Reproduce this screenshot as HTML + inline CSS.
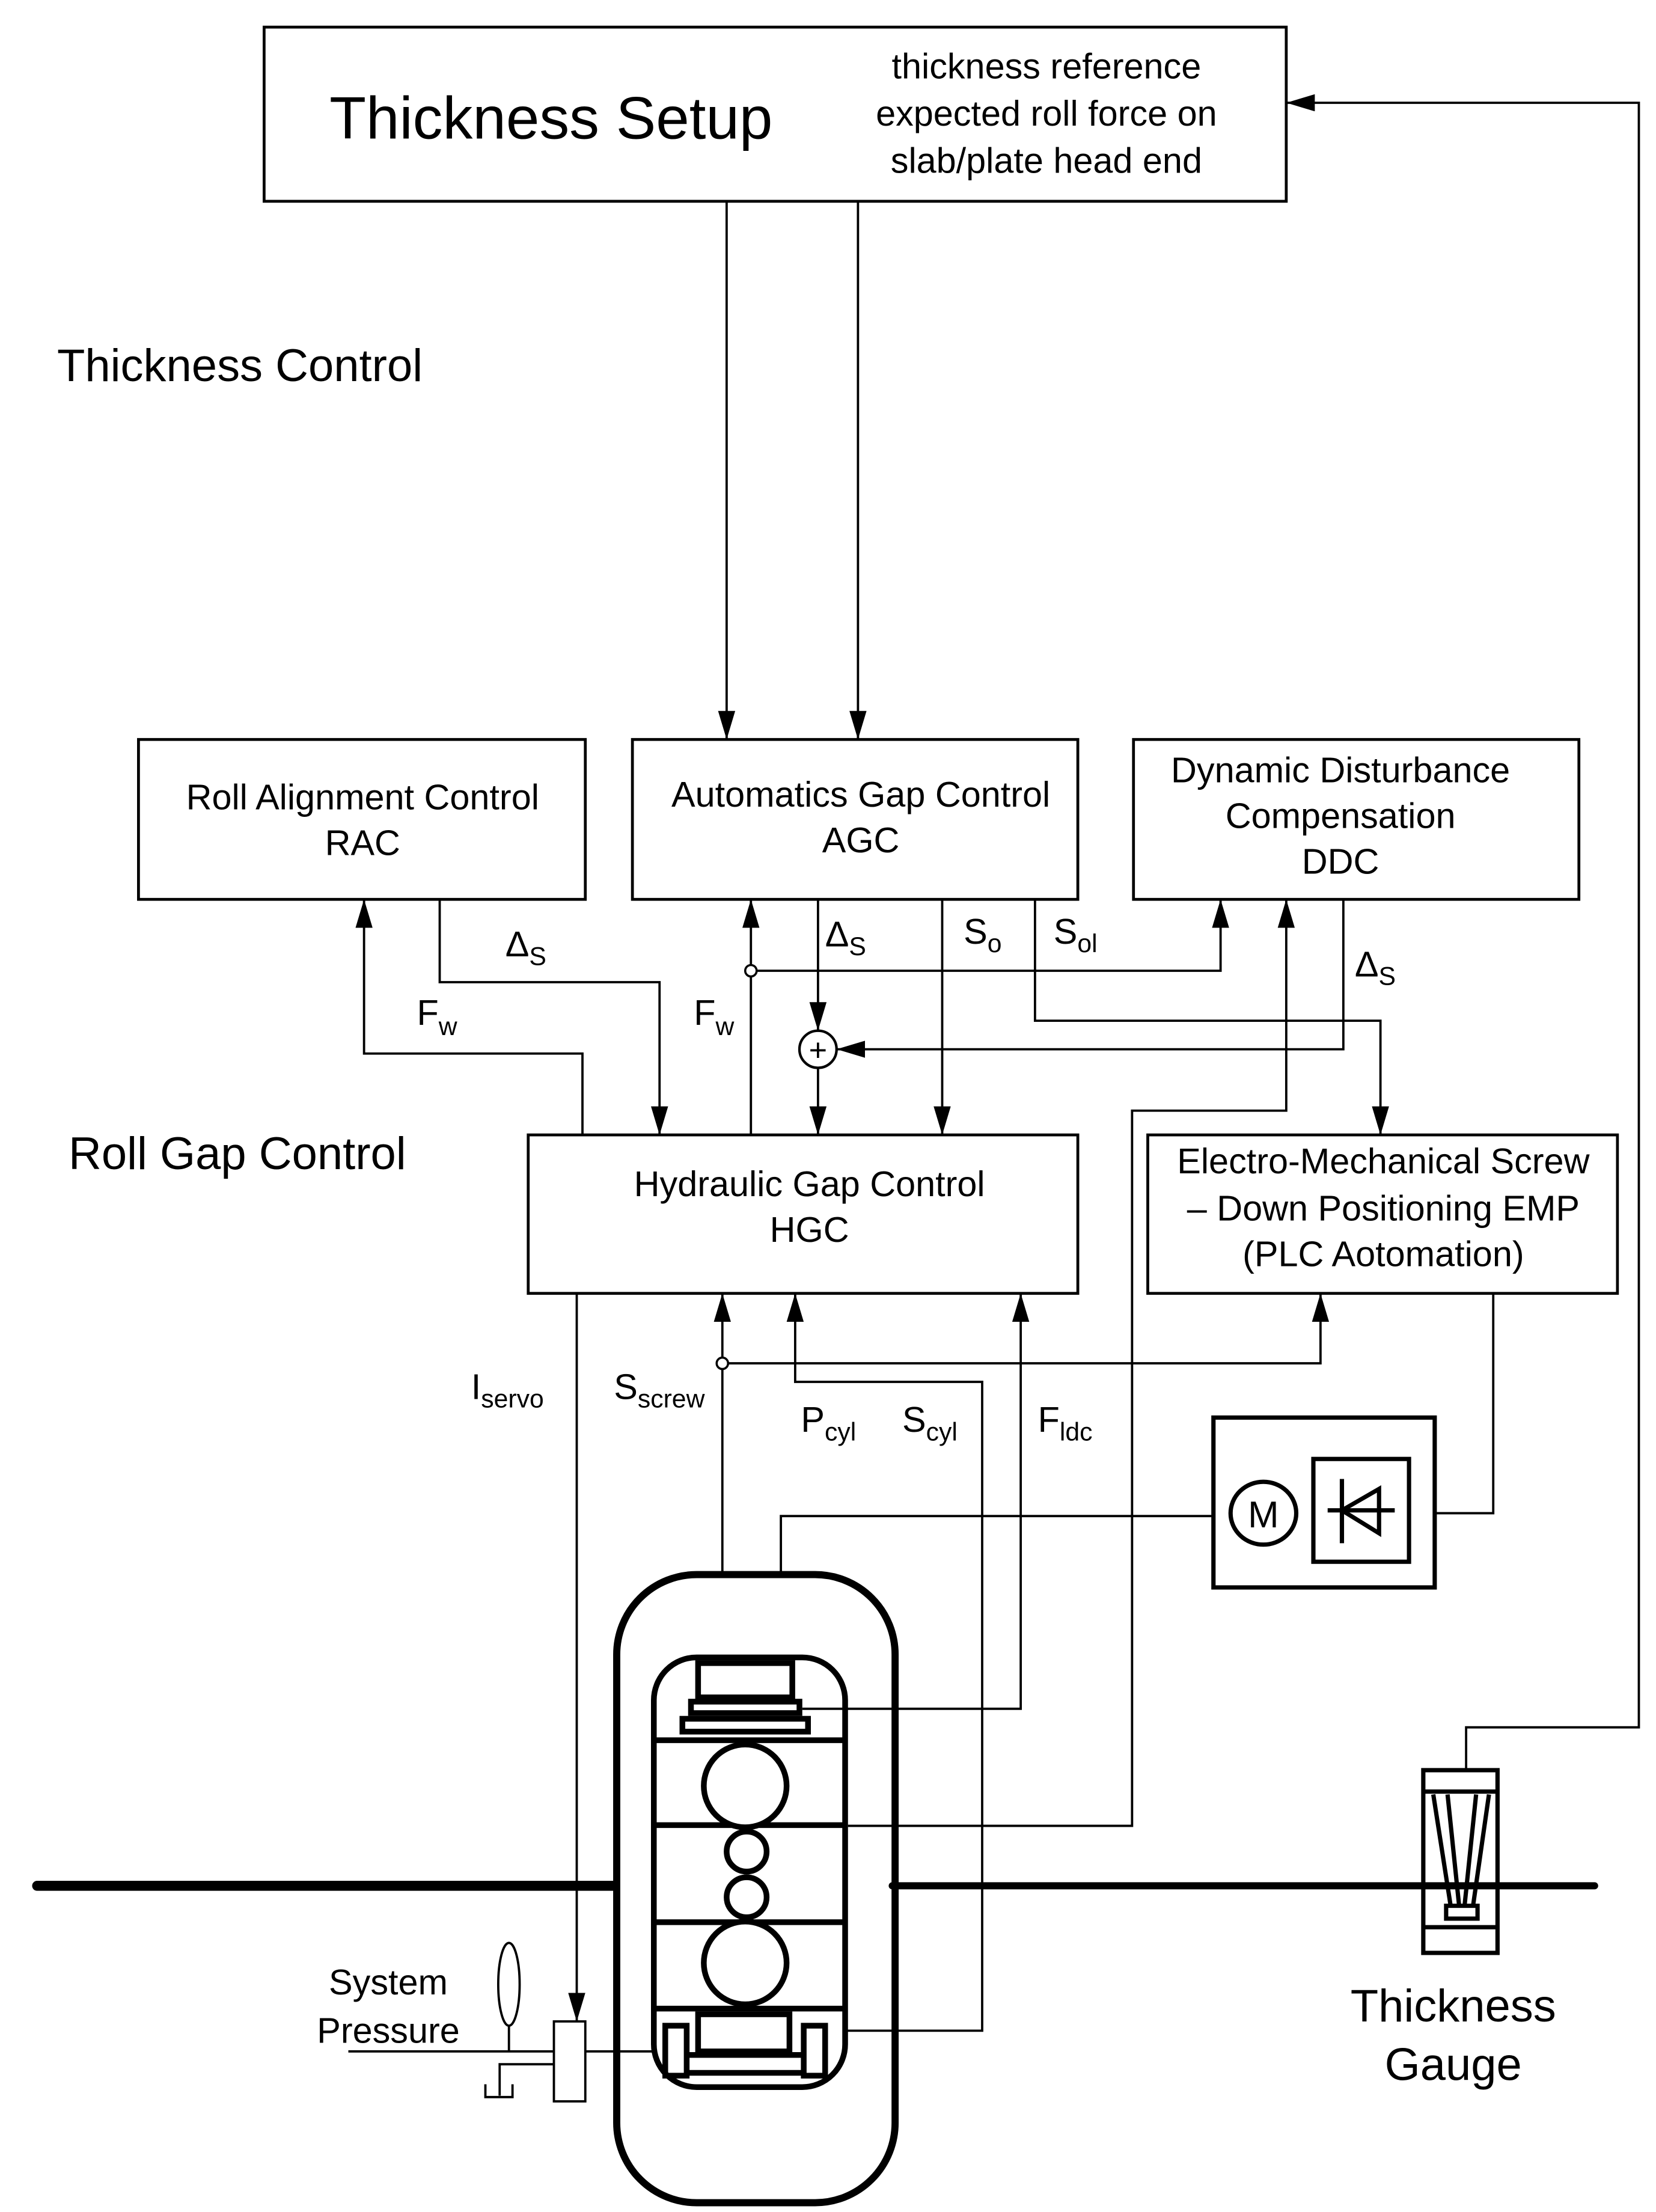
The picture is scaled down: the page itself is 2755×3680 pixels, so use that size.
<!DOCTYPE html>
<html><head><meta charset="utf-8"><style>
html,body{margin:0;padding:0;background:#fff;}
svg{display:block;}
text{font-family:"Liberation Sans",Arial,sans-serif;fill:#000;}
</style></head><body>
<svg width="2755" height="3680" viewBox="0 0 1160 1549.5" xmlns="http://www.w3.org/2000/svg">
<defs>
<marker id="a" viewBox="0 0 20 12" refX="20" refY="6" markerWidth="20" markerHeight="12" markerUnits="userSpaceOnUse" orient="auto">
<path d="M0,0 L20,6 L0,12 Z" fill="#000"/>
</marker>
</defs>
<g fill="none" stroke="#000" stroke-width="2">
<rect x="185" y="19" width="716" height="122"/>
<rect x="97" y="518" width="313" height="112"/>
<rect x="443" y="518" width="312" height="112"/>
<rect x="794" y="518" width="312" height="112"/>
<rect x="370" y="795" width="385" height="111"/>
<rect x="804" y="795" width="329" height="111"/>
</g>
<g fill="none" stroke="#000" stroke-width="1.6">
<line x1="509" y1="141" x2="509" y2="518" marker-end="url(#a)"/>
<line x1="601" y1="141" x2="601" y2="518" marker-end="url(#a)"/>
<polyline points="1027,1240 1027,1210 1148,1210 1148,72 901,72" marker-end="url(#a)"/>
<polyline points="408,795 408,738 255,738 255,630" marker-end="url(#a)"/>
<polyline points="308,630 308,688 462,688 462,795" marker-end="url(#a)"/>
<line x1="526" y1="795" x2="526" y2="630" marker-end="url(#a)"/>
<polyline points="530,680 855,680 855,630" marker-end="url(#a)"/>
<line x1="573" y1="630" x2="573" y2="722" marker-end="url(#a)"/>
<line x1="573" y1="748" x2="573" y2="795" marker-end="url(#a)"/>
<line x1="660" y1="630" x2="660" y2="795" marker-end="url(#a)"/>
<polyline points="725,630 725,715 967,715 967,795" marker-end="url(#a)"/>
<polyline points="941,630 941,735 586,735" marker-end="url(#a)"/>
<polyline points="594,1279 793,1279 793,778 901,778 901,630" marker-end="url(#a)"/>
<polyline points="404,906 404,1416" marker-end="url(#a)"/>
<line x1="506" y1="1102" x2="506" y2="906" marker-end="url(#a)"/>
<polyline points="510,955 925,955 925,906" marker-end="url(#a)"/>
<polyline points="592,1422.5 688,1422.5 688,968 557,968 557,906" marker-end="url(#a)"/>
<polyline points="562,1197 715,1197 715,906" marker-end="url(#a)"/>
<polyline points="547,1102 547,1062 850,1062"/>
<polyline points="1005,1060 1046,1060 1046,906"/>
<line x1="244" y1="1437" x2="388" y2="1437"/>
<line x1="410" y1="1437" x2="458" y2="1437"/>
<line x1="356.5" y1="1419" x2="356.5" y2="1437"/>
<polyline points="388,1446 350,1446 350,1468"/>
<polyline points="340,1460 340,1469 359,1469 359,1460"/>
</g>
<circle cx="526" cy="680" r="4" fill="#fff" stroke="#000" stroke-width="1.5"/>
<circle cx="506" cy="955" r="4" fill="#fff" stroke="#000" stroke-width="1.5"/>
<circle cx="573" cy="735" r="13" fill="#fff" stroke="#000" stroke-width="1.8"/>
<text x="573" y="743" font-size="22" text-anchor="middle">+</text>
<rect x="388" y="1416" width="22" height="56" fill="#fff" stroke="#000" stroke-width="1.6"/>
<ellipse cx="356.5" cy="1390" rx="7.5" ry="29" fill="none" stroke="#000" stroke-width="1.6"/>
<line x1="26" y1="1321" x2="430" y2="1321" stroke="#000" stroke-width="7" stroke-linecap="round"/>
<line x1="625" y1="1321" x2="1117" y2="1321" stroke="#000" stroke-width="5" stroke-linecap="round"/>
<rect x="432" y="1103" width="195" height="440" rx="56" fill="none" stroke="#000" stroke-width="5"/>
<g fill="none" stroke="#000" stroke-width="4">
<rect x="458" y="1161" width="134" height="301" rx="30"/>
<rect x="489" y="1165" width="66" height="24"/>
<rect x="484" y="1192" width="76" height="8"/>
<rect x="478" y="1204" width="88" height="9"/>
<line x1="458" y1="1219" x2="592" y2="1219"/>
<line x1="458" y1="1278.5" x2="592" y2="1278.5"/>
<line x1="458" y1="1346.5" x2="592" y2="1346.5"/>
<line x1="458" y1="1407" x2="592" y2="1407"/>
<circle cx="522" cy="1251" r="29" fill="#fff"/>
<circle cx="523" cy="1297" r="14" fill="#fff"/>
<circle cx="523" cy="1329" r="14" fill="#fff"/>
<circle cx="522" cy="1375" r="29" fill="#fff"/>
<rect x="489" y="1411" width="64" height="26"/>
<rect x="466" y="1419" width="15" height="35"/>
<rect x="563" y="1419" width="15" height="35"/>
<line x1="481" y1="1439.5" x2="563" y2="1439.5"/>
<line x1="481" y1="1452" x2="563" y2="1452"/>
</g>
<g fill="none" stroke="#000" stroke-width="3">
<rect x="850" y="993" width="155" height="119"/>
<rect x="920" y="1022" width="67" height="72"/>
<ellipse cx="885" cy="1060" rx="23" ry="22"/>
<line x1="930" y1="1058" x2="977" y2="1058"/>
<line x1="940" y1="1036" x2="940" y2="1081"/>
<polyline points="940,1058 966,1043 966,1074 940,1058"/>
</g>
<text x="885" y="1070" font-size="26" text-anchor="middle">M</text>
<g fill="none" stroke="#000" stroke-width="3">
<rect x="997" y="1240" width="52" height="128"/>
<line x1="997" y1="1255" x2="1049" y2="1255"/>
<line x1="997" y1="1350" x2="1049" y2="1350"/>
<rect x="1013" y="1335" width="22" height="9"/>
<line x1="1004" y1="1257" x2="1016" y2="1334"/>
<line x1="1014" y1="1257" x2="1022" y2="1334"/>
<line x1="1034" y1="1257" x2="1026" y2="1334"/>
<line x1="1043" y1="1257" x2="1032" y2="1334"/>
</g>
<text x="386" y="97" font-size="42" text-anchor="middle">Thickness Setup</text>
<g font-size="25" text-anchor="middle">
<text x="733" y="55">thickness reference</text>
<text x="733" y="88">expected roll force on</text>
<text x="733" y="121">slab/plate head end</text>
<text x="254" y="567">Roll Alignment Control</text>
<text x="254" y="599">RAC</text>
<text x="603" y="565">Automatics Gap Control</text>
<text x="603" y="597">AGC</text>
<text x="939" y="548">Dynamic Disturbance</text>
<text x="939" y="580">Compensation</text>
<text x="939" y="612">DDC</text>
<text x="567" y="838">Hydraulic Gap Control</text>
<text x="567" y="870">HGC</text>
<text x="969" y="822">Electro-Mechanical Screw</text>
<text x="969" y="855">– Down Positioning EMP</text>
<text x="969" y="887">(PLC Aotomation)</text>
<text x="272" y="1397">System</text>
<text x="272" y="1431">Pressure</text>
</g>
<text x="40" y="267" font-size="32">Thickness Control</text>
<text x="48" y="819" font-size="32">Roll Gap Control</text>
<text x="1018" y="1416" font-size="32" text-anchor="middle">Thickness</text>
<text x="1018" y="1457" font-size="32" text-anchor="middle">Gauge</text>
<g font-size="25">
<text x="354" y="670">Δ<tspan font-size="18" dy="6">S</tspan></text>
<text x="292" y="718">F<tspan font-size="18" dy="7">w</tspan></text>
<text x="486" y="718">F<tspan font-size="18" dy="7">w</tspan></text>
<text x="578" y="663">Δ<tspan font-size="18" dy="6">S</tspan></text>
<text x="675" y="661">S<tspan font-size="18" dy="6">o</tspan></text>
<text x="738" y="661">S<tspan font-size="18" dy="6">ol</tspan></text>
<text x="949" y="684">Δ<tspan font-size="18" dy="6">S</tspan></text>
<text x="330" y="980">I<tspan font-size="18" dy="6">servo</tspan></text>
<text x="430" y="980">S<tspan font-size="18" dy="6">screw</tspan></text>
<text x="561" y="1003">P<tspan font-size="18" dy="6">cyl</tspan></text>
<text x="632" y="1003">S<tspan font-size="18" dy="6">cyl</tspan></text>
<text x="727" y="1003">F<tspan font-size="18" dy="6">ldc</tspan></text>
</g>
</svg>
</body></html>
